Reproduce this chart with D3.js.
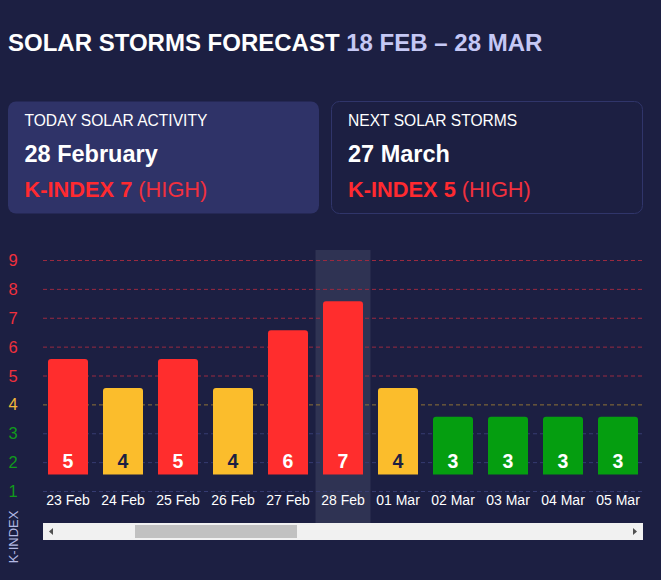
<!DOCTYPE html>
<html><head><meta charset="utf-8">
<script src="https://cdn.jsdelivr.net/npm/d3@7"></script>
<style>
html,body{margin:0;padding:0;background:#1c1f42;overflow:hidden;}
svg{display:block;}
</style></head>
<body>
<svg id="c" width="661" height="580"></svg>
<script>
const categories = ["23 Feb","24 Feb","25 Feb","26 Feb","27 Feb","28 Feb","01 Mar","02 Mar","03 Mar","04 Mar","05 Mar"];
const kValues = [5,4,5,4,6,7,4,3,3,3,3];
const yTicks = [1,2,3,4,5,6,7,8,9];
const highlighted = "28 Feb";
const titleMain = "SOLAR STORMS FORECAST";
const titleRange = "18 FEB – 28 MAR";
const cardTitles = ["TODAY SOLAR ACTIVITY","NEXT SOLAR STORMS"];
const cardDates = ["28 February","27 March"];
const cardK = [7,5];
const cardLevel = ["(HIGH)","(HIGH)"];

const RED="#ff2d2d", YEL="#fbbd2c", GRN="#059e10";
const col = v => v>=5?RED:(v===4?YEL:GRN);
const tickCol = v => v>=5?"#f0303c":(v===4?"#f2b73a":"#119a1c");
const gridCol = v => v>=5?"#9a2a40":(v===4?"#8f7335":"#363c72");

const svg = d3.select("#c");
const F = "Liberation Sans, Arial, sans-serif";

// Title
const t = svg.append("text").attr("x",8).attr("y",51).attr("font-family",F).attr("font-weight","bold").attr("font-size",24);
t.append("tspan").attr("fill","#ffffff").text(titleMain+" ");
t.append("tspan").attr("fill","#c5c8f5").text(titleRange);

// Cards
const cards=[{x:8,fill:"#2f3368",stroke:"none"},{x:331.5,fill:"#1c1f42",stroke:"#30356a"}];
cards.forEach((c,i)=>{
  svg.append("rect").attr("x",c.x).attr("y",101.5).attr("width",311).attr("height",112).attr("rx",8)
    .attr("fill",c.fill).attr("stroke",c.stroke);
  const tx = c.x+16.5;
  svg.append("text").attr("x",tx).attr("y",126).attr("font-family",F).attr("font-size",15.6).attr("fill","#fff").text(cardTitles[i]);
  svg.append("text").attr("x",tx).attr("y",162).attr("font-family",F).attr("font-weight","bold").attr("font-size",23.5).attr("fill","#fff").text(cardDates[i]);
  const k = svg.append("text").attr("x",tx).attr("y",197).attr("font-family",F).attr("font-size",21.8);
  k.append("tspan").attr("font-weight","bold").attr("fill","#ff2a30").text("K-INDEX "+cardK[i]+" ");
  k.append("tspan").attr("fill","#f0303e").text(cardLevel[i]);
});

// Scales
const x = d3.scaleBand().domain(categories).range([40.5,645.5]).paddingInner(15/55).paddingOuter(7.5/55);
const y = d3.scaleLinear().domain([1,9]).range([491,260]);
const barOffset = 16.5;

// Highlight band
svg.append("rect").attr("x",x(highlighted)-x.step()*x.paddingInner()/2).attr("y",250)
  .attr("width",x.step()).attr("height",273).attr("fill","#2f3353");

// Gridlines
svg.append("g").selectAll("line").data(yTicks).join("line")
  .attr("x1",43).attr("x2",643).attr("y1",d=>y(d)+0.5).attr("y2",d=>y(d)+0.5)
  .attr("stroke",d=>gridCol(d)).attr("stroke-width",1).attr("stroke-dasharray","4,3");

// Y labels
svg.append("g").selectAll("text").data(yTicks).join("text")
  .attr("x",13).attr("y",d=>y(d)+6).attr("text-anchor","middle")
  .attr("font-family",F).attr("font-size",16.5)
  .attr("fill",d=>tickCol(d)).text(d=>d);

// Bars with rounded top
const r=3;
svg.append("g").selectAll("path").data(kValues).join("path")
  .attr("fill",(d)=>col(d))
  .attr("d",(d,i)=>{
    const x0=x(categories[i]), w=x.bandwidth();
    const top=y(d)-barOffset, bot=y(1)-barOffset;
    return `M${x0},${bot}V${top+r}Q${x0},${top} ${x0+r},${top}H${x0+w-r}Q${x0+w},${top} ${x0+w},${top+r}V${bot}Z`;
  });

// Value labels
svg.append("g").selectAll("text").data(kValues).join("text")
  .attr("x",(d,i)=>x(categories[i])+x.bandwidth()/2).attr("y",468)
  .attr("text-anchor","middle").attr("font-family",F).attr("font-weight","bold").attr("font-size",19.5)
  .attr("fill",d=>d===4?"#1c1f42":"#ffffff").text(d=>d);

// X axis labels
const xAxis = d3.axisBottom(x).tickSize(0).tickPadding(0);
const gx = svg.append("g").attr("transform","translate(0,492)").call(xAxis);
gx.select(".domain").remove();
gx.selectAll("text").attr("font-family",F).attr("font-size",14).attr("fill","#ffffff").attr("dy","0").attr("y",13);

// K-INDEX axis title
svg.append("text").attr("transform","translate(17.5,537) rotate(-90)").attr("text-anchor","middle")
  .attr("font-family",F).attr("font-size",13).attr("fill","#b3b8e2").text("K-INDEX");

// Scrollbar
svg.append("rect").attr("x",43).attr("y",523).attr("width",600).attr("height",17).attr("fill","#f1f1f1");
svg.append("rect").attr("x",135).attr("y",525).attr("width",162).attr("height",13).attr("fill","#c1c1c1");
svg.append("path").attr("d","M49,531.5L53,528V535Z").attr("fill","#505050");
svg.append("path").attr("d","M637,531.5L633,528V535Z").attr("fill","#505050");
</script>
</body></html>
